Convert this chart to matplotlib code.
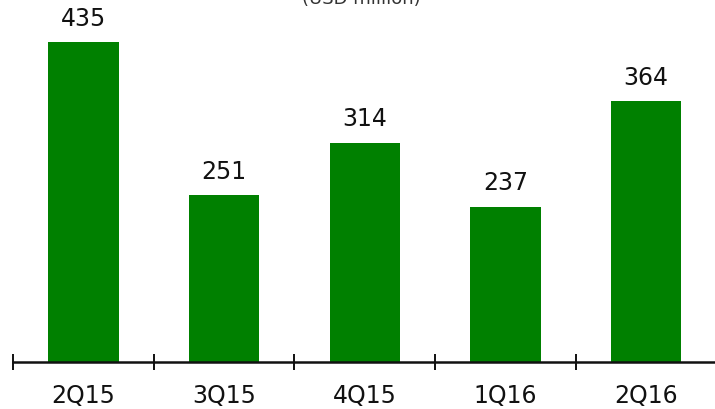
import matplotlib
matplotlib.use("Agg")
import matplotlib.pyplot as plt
from matplotlib.ticker import FixedLocator

categories = ["2Q15", "3Q15", "4Q15", "1Q16", "2Q16"]
values = [435, 251, 314, 237, 364]
unit_label = "(USD million)"

W, H = 715, 409
fig = plt.figure(figsize=(W / 100, H / 100), dpi=100)
ax = fig.add_axes([13 / W, (H - 362) / H, (716.5 - 13) / W, 362 / H])

x = list(range(len(categories)))
ax.bar(x, values, width=0.5, color="#008000", zorder=2)
for xi, v in zip(x, values):
    ax.annotate(str(v), (xi, v), xytext=(0, 8), textcoords="offset points",
                ha="center", va="bottom", fontsize=17, color="#111111")

ax.set_xlim(-0.5, len(categories) - 0.5)
ax.set_ylim(50, 485.4)

for s in ["top", "right", "left"]:
    ax.spines[s].set_visible(False)
ax.spines["bottom"].set_linewidth(1.8)
ax.spines["bottom"].set_color("#111111")
ax.set_yticks([])

ax.set_xticks(x)
ax.set_xticklabels(categories, fontsize=17, color="#111111")
ax.tick_params(axis="x", which="major", length=0, pad=16)
ax.xaxis.set_minor_locator(FixedLocator([i - 0.5 for i in range(len(categories) + 1)]))
ax.tick_params(axis="x", which="minor", direction="inout", length=11.5, width=1.4, color="#111111")

fig.text(361 / W, (H - 4) / H, unit_label, ha="center", va="baseline", fontsize=13, color="#333333")

fig.savefig("out.png", dpi=100)
